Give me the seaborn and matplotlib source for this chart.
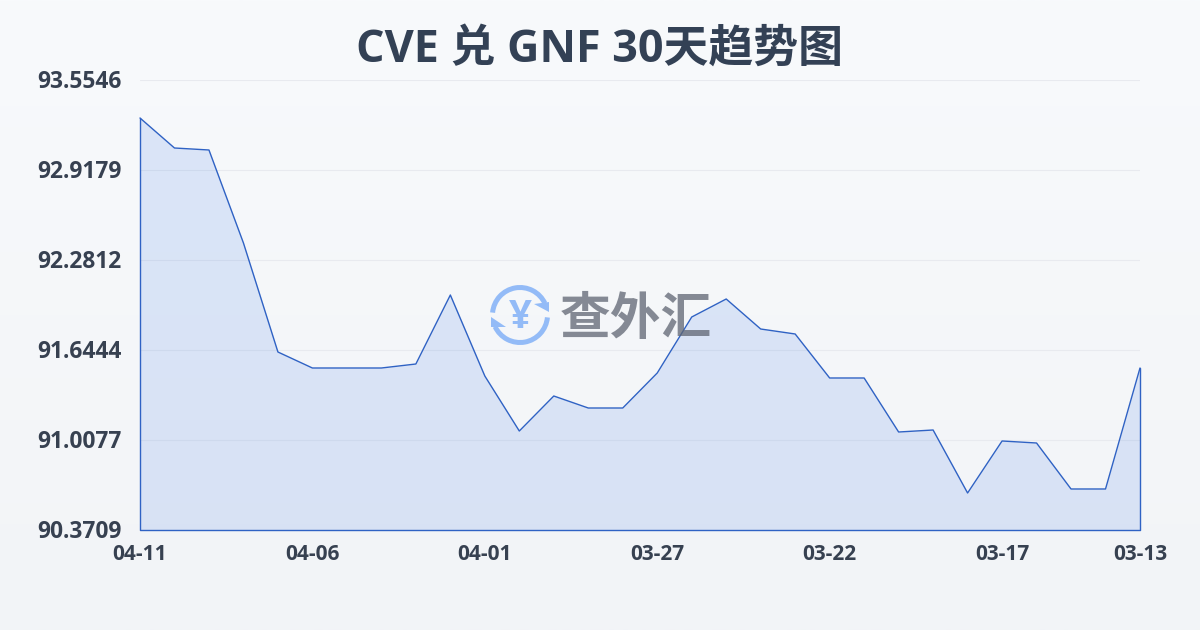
import numpy as np
import pandas as pd
import matplotlib
matplotlib.use('Agg')
import matplotlib.pyplot as plt
from matplotlib.patches import Arc, Polygon
from matplotlib.transforms import ScaledTranslation
import seaborn as sns

# --- data ---
dates = ['04-11', '04-10', '04-09', '04-08', '04-07', '04-06', '04-05', '04-04', '04-03', '04-02',
         '04-01', '03-31', '03-30', '03-29', '03-28', '03-27', '03-26', '03-25', '03-24', '03-23',
         '03-22', '03-21', '03-20', '03-19', '03-18', '03-17', '03-16', '03-15', '03-14', '03-13']
rates = [93.2858, 93.0735, 93.0594, 92.4014, 91.6302, 91.5170, 91.5170, 91.5170, 91.5453, 92.0335,
         91.4604, 91.0713, 91.3189, 91.2340, 91.2340, 91.4817, 91.8778, 92.0052, 91.7929, 91.7576,
         91.4463, 91.4463, 91.0642, 91.0784, 90.6327, 91.0006, 90.9864, 90.6610, 90.6610, 91.5170]
y_ticks = [90.3709, 91.0077, 91.6444, 92.2812, 92.9179, 93.5546]
x_ticks = ['04-11', '04-06', '04-01', '03-27', '03-22', '03-17', '03-13']
df = pd.DataFrame({'date': dates, 'rate': rates})

sns.set_theme(style='white')
plt.rcParams['font.family'] = ['Open Sans', 'Noto Sans CJK SC', 'DejaVu Sans']

text_color = '#374151'
line_color = '#2f62c4'
logo_color = '#93bbf7'

fig = plt.figure(figsize=(12, 6.3), dpi=100)

# page background, a faint vertical gradient
bg = fig.add_axes([0, 0, 1, 1], zorder=0)
bg.imshow(np.linspace(0, 1, 256).reshape(-1, 1), aspect='auto',
          cmap=matplotlib.colors.LinearSegmentedColormap.from_list('page', ['#f8fafc', '#f2f4f7']))
bg.axis('off')

# plot area runs 140..1140 px across and 80..530 px down
ax = fig.add_axes([140 / 1200, 1 - 530 / 630, 1000 / 1200, 450 / 630], zorder=1)
ax.patch.set_alpha(0)
sns.lineplot(data=df, x='date', y='rate', sort=False, color=line_color, linewidth=1.0,
             errorbar=None, ax=ax, zorder=3, clip_on=False)
pos = np.arange(len(dates))
ax.fill_between(pos, rates, y_ticks[0], facecolor='#3f78e6', alpha=0.15, linewidth=0, zorder=2)
ax.plot([0, 0, 29, 29], [rates[0], y_ticks[0], y_ticks[0], rates[-1]], color=line_color,
        linewidth=1.0, clip_on=False, zorder=3)

ax.set_xlim(0, 29)
ax.set_ylim(y_ticks[0], y_ticks[-1])
ax.set_xticks([dates.index(d) for d in x_ticks])
ax.set_xticklabels(x_ticks)
ax.set_yticks(y_ticks)
ax.set_yticklabels([f'{v:.4f}' for v in y_ticks])
ax.set_xlabel('')
ax.set_ylabel('')
ax.grid(axis='y', color='#e8eaef', linewidth=0.8, zorder=1)
ax.tick_params(axis='x', length=10, width=0.7, color='#e8eaef', pad=0, labelsize=15,
               labelcolor=text_color)
ax.tick_params(axis='y', length=0, pad=13, labelsize=16.4, labelcolor=text_color)
for lab in ax.get_xticklabels():
    lab.set_fontweight('bold')
# y labels sit a little above their grid lines
nudge = ScaledTranslation(0, 1.0 / 72, fig.dpi_scale_trans)
for lab in ax.get_yticklabels():
    lab.set_fontweight('bold')
    lab.set_transform(lab.get_transform() + nudge)
sns.despine(ax=ax, left=True, bottom=True)

fig.text(600 / 1200, 1 - 50 / 630, 'CVE 兑 GNF 30天趋势图', ha='center', va='center',
         fontsize=32.3, fontweight='bold', color='#334155')

# watermark logo on top, drawn in pixel coordinates
wm = fig.add_axes([0, 0, 1, 1], zorder=5)
wm.set_xlim(0, 1200)
wm.set_ylim(630, 0)
wm.axis('off')
wm.patch.set_alpha(0)
wm.add_patch(Arc((520, 315), 55, 55, theta1=185, theta2=335, color=logo_color, linewidth=3.6))
wm.add_patch(Arc((520, 315), 55, 55, theta1=5, theta2=155, color=logo_color, linewidth=3.6))
wm.add_patch(Polygon([[549, 302], [534, 304], [549, 312]], closed=True, color=logo_color, linewidth=0))
wm.add_patch(Polygon([[491, 327], [506, 327], [491, 317]], closed=True, color=logo_color, linewidth=0))
wm.text(520, 317, '¥', ha='center', va='center', fontsize=29, fontweight='bold', color=logo_color)
wm.text(636, 321, '查外汇', ha='center', va='center', fontsize=36.5, fontweight='bold',
        color='#5f6572', alpha=0.75)

fig.savefig('out.png', dpi=100)
